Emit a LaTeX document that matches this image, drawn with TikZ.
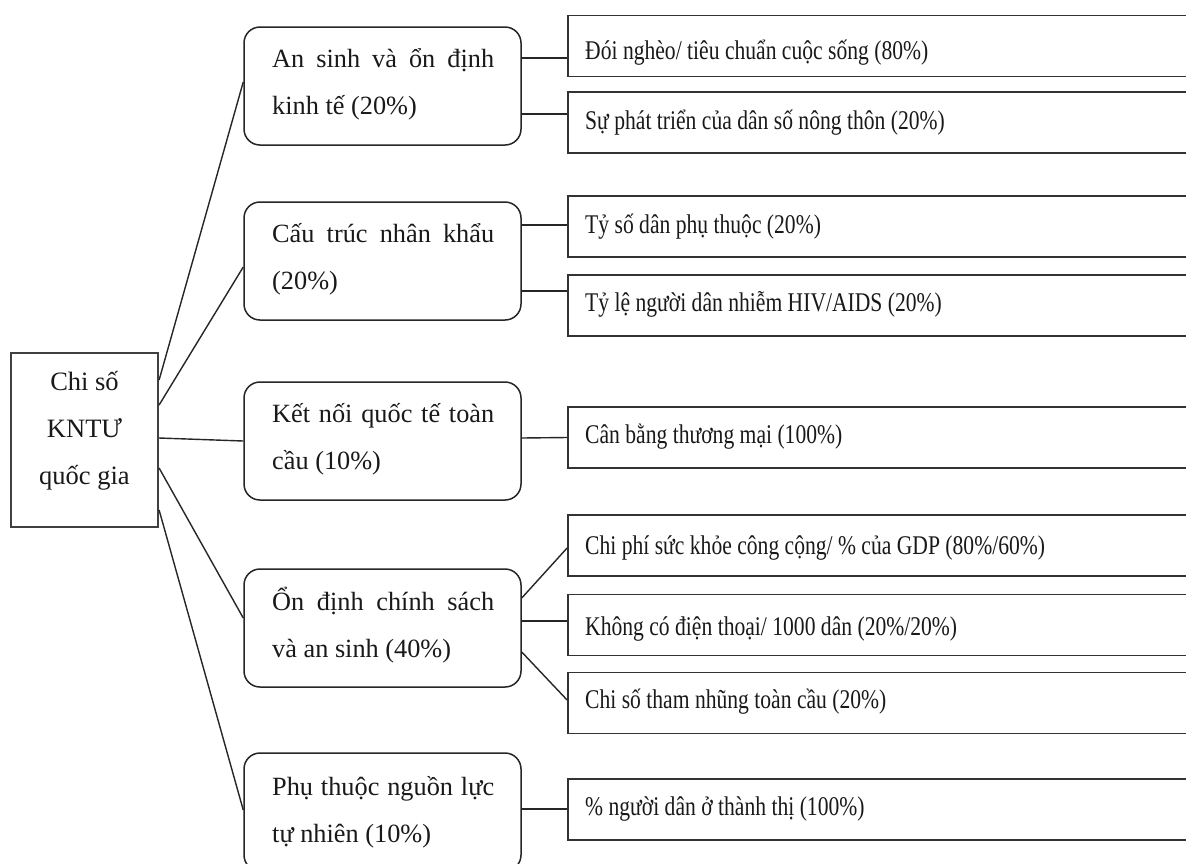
\documentclass[tikz,border=0pt]{standalone}
\usepackage{fontspec}
\usepackage{graphicx}
\setmainfont{Liberation Serif}
\begin{document}
\begin{tikzpicture}[x=1pt,y=-1pt,
  rootbox/.style={draw=black!75,line width=2.2pt,minimum width=147pt,minimum height=174pt,inner sep=0pt},
  midbox/.style={draw=black!85,line width=1.5pt,rounded corners=16pt,minimum width=277pt,minimum height=118pt,inner sep=0pt},
  rightbox/.style={draw=black!80,line width=1.8pt,minimum width=627pt,minimum height=61pt,inner sep=0pt},
  txt/.style={inner sep=0pt,anchor=base west,text=black!90,font=\fontsize{26.3}{47}\selectfont},
  rtxt/.style={inner sep=0pt,anchor=base west,text=black!90,font=\fontsize{27}{47}\selectfont},
  conn/.style={draw=black!85,line width=1.4pt}]
\useasboundingbox (0,0) rectangle (1186,863);
\clip (0,0) rectangle (1186,863);
\fill[white] (0,0) rectangle (1186,863);

% root
\node[rootbox] (root) at (84.5,440) {};
\node[inner sep=0pt,anchor=base,text=black!90,font=\fontsize{26.5}{47}\selectfont] (roott) at (84.5,390)
  {\parbox[t]{140pt}{\centering Chi số\\KNTƯ\\quốc gia}};

% middle boxes
\node[midbox] (m1) at (382.5,86) {};
\node[midbox] (m2) at (382.5,261) {};
\node[midbox] (m3) at (382.5,441) {};
\node[midbox] (m4) at (382.5,628) {};
\node[midbox] (m5) at (382.5,812) {};

\node[txt] (m1t) at (272,67) {\parbox[t]{222pt}{An sinh và ổn định\linebreak kinh tế (20\%)}};
\node[txt] (m2t) at (272,242) {\parbox[t]{222pt}{Cấu trúc nhân khẩu\linebreak (20\%)}};
\node[txt] (m3t) at (272,422) {\parbox[t]{222pt}{Kết nối quốc tế toàn\linebreak cầu (10\%)}};
\node[txt] (m4t) at (272,610) {\parbox[t]{222pt}{Ổn định chính sách\linebreak và an sinh (40\%)}};
\node[txt] (m5t) at (272,795) {\parbox[t]{222pt}{Phụ thuộc nguồn lực\linebreak tự nhiên (10\%)}};

% right boxes
\node[rightbox] (r1) at (881.5,46) {};
\node[rightbox] (r2) at (881.5,122.5) {};
\node[rightbox] (r3) at (881.5,226.5) {};
\node[rightbox] (r4) at (881.5,305.5) {};
\node[rightbox] (r5) at (881.5,437.5) {};
\node[rightbox] (r6) at (881.5,545.5) {};
\node[rightbox] (r7) at (881.5,625) {};
\node[rightbox] (r8) at (881.5,703) {};
\node[rightbox] (r9) at (881.5,809.5) {};

\node[rtxt] (r1t) at (585,59) {\scalebox{0.8}[1]{Đói nghèo/ tiêu chuẩn cuộc sống (80\%)}};
\node[rtxt] (r2t) at (585,129) {\scalebox{0.8}[1]{Sự phát triển của dân số nông thôn (20\%)}};
\node[rtxt] (r3t) at (585,233) {\scalebox{0.8}[1]{Tỷ số dân phụ thuộc (20\%)}};
\node[rtxt] (r4t) at (585,311) {\scalebox{0.8}[1]{Tỷ lệ người dân nhiễm HIV/AIDS (20\%)}};
\node[rtxt] (r5t) at (585,443) {\scalebox{0.8}[1]{Cân bằng thương mại (100\%)}};
\node[rtxt] (r6t) at (585,554) {\scalebox{0.8}[1]{Chi phí sức khỏe công cộng/ \% của GDP (80\%/60\%)}};
\node[rtxt] (r7t) at (585,635) {\scalebox{0.8}[1]{Không có điện thoại/ 1000 dân (20\%/20\%)}};
\node[rtxt] (r8t) at (585,708) {\scalebox{0.8}[1]{Chi số tham nhũng toàn cầu (20\%)}};
\node[rtxt] (r9t) at (585,815) {\scalebox{0.8}[1]{\% người dân ở thành thị (100\%)}};

% root connectors
\draw[conn] ([yshift=60pt]root.east) -- ([yshift=4pt]m1.west);
\draw[conn] ([yshift=35pt]root.east) -- ([yshift=-6pt]m2.west);
\draw[conn] ([yshift=2pt]root.east) -- ([yshift=0pt]m3.west);
\draw[conn] ([yshift=-28pt]root.east) -- ([yshift=10pt]m4.west);
\draw[conn] ([yshift=-70pt]root.east) -- ([yshift=2pt]m5.west);

% middle to right connectors
\draw[conn] ([yshift=28pt]m1.east) -- ([yshift=-12pt]r1.west);
\draw[conn] ([yshift=-28pt]m1.east) -- ([yshift=8.5pt]r2.west);
\draw[conn] ([yshift=36pt]m2.east) -- ([yshift=1.5pt]r3.west);
\draw[conn] ([yshift=-30pt]m2.east) -- ([yshift=14.5pt]r4.west);
\draw[conn] ([yshift=3pt]m3.east) -- ([yshift=0pt]r5.west);
\draw[conn] ([yshift=30pt]m4.east) -- ([yshift=-2.5pt]r6.west);
\draw[conn] ([yshift=7pt]m4.east) -- ([yshift=4pt]r7.west);
\draw[conn] ([yshift=-24pt]m4.east) -- ([yshift=3pt]r8.west);
\draw[conn] ([yshift=3pt]m5.east) -- ([yshift=0.5pt]r9.west);
\end{tikzpicture}
\end{document}
